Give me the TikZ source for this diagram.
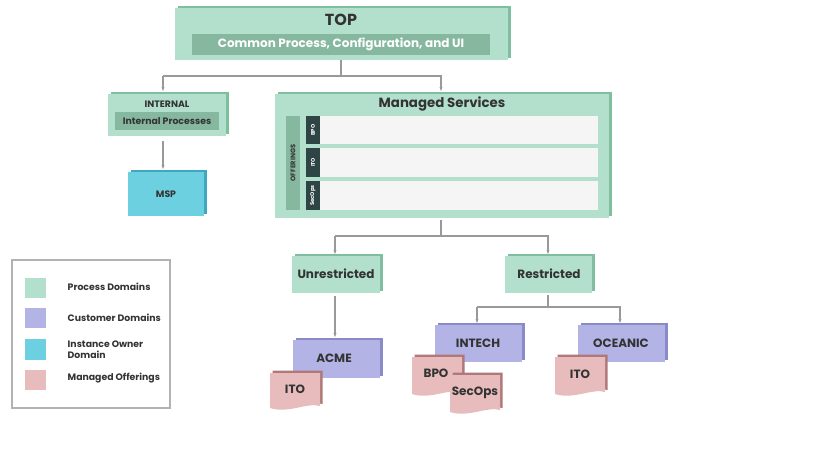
\documentclass[tikz,border=0pt]{standalone}
\usepackage{fontspec}
\setmainfont{Poppins}
\usetikzlibrary{arrows.meta}
\begin{document}
\begin{tikzpicture}[x=0.75pt,y=-0.75pt,
  txt/.style={text=black!80},
  arr/.style={draw=gray!80,line width=0.8pt,-{Stealth[length=3pt]}},
  ln/.style={draw=gray!80,line width=0.8pt}]
\definecolor{gr}{HTML}{B2E0CC}\definecolor{grd}{HTML}{7FBFA0}\definecolor{grm}{HTML}{86B8A0}
\definecolor{pu}{HTML}{B3B3E6}\definecolor{pud}{HTML}{8A8AC8}
\definecolor{cy}{HTML}{6DD0E0}\definecolor{cyd}{HTML}{3FA8C0}
\definecolor{pk}{HTML}{E8BCBC}\definecolor{pkd}{HTML}{B07878}
\definecolor{dk}{HTML}{2F4545}
\useasboundingbox (0,0) rectangle (820,461);
\newcommand\bx[6]{% x1 y1 x2 y2 fill edge
  \fill[#6] (#1+2.5,#2-2.5) rectangle (#3+2.5,#4-2.5);
  \fill[#5] (#1,#2) rectangle (#3,#4);}
\newcommand\doc[4]{% x1 y1 x2 y2
  \fill[pkd] (#1+2.5,#2-2.5) -- (#3+2.5,#2-2.5) -- (#3+2.5,#4-4) .. controls (#3-10,#4-8) and (#1+20,#4+4) .. (#1+2.5,#4-2) -- cycle;
  \fill[pk] (#1,#2) -- (#3,#2) -- (#3,#4-2) .. controls (#3-12,#4-6) and (#1+18,#4+6) .. (#1,#4) -- cycle;}
% TOP
\bx{175}{8}{508}{60}{gr}{grd}
\node[txt,font=\bfseries\large] (top) at (341,20) {TOP};
\fill[grm] (192,34) rectangle (490,55);
\node[text=white,font=\bfseries\small] (cp) at (341,44.5) {Common Process, Configuration, and UI};
% INTERNAL
\bx{108}{94}{226}{136}{gr}{grd}
\node[txt,font=\bfseries\scriptsize] (int) at (167,104) {INTERNAL};
\fill[grm] (115,112) rectangle (219,130);
\node[txt,font=\bfseries\scriptsize] (ip) at (167,121) {Internal Processes};
% MSP
\bx{128}{172}{204}{216}{cy}{cyd}
\node[txt,font=\bfseries\scriptsize] (msp) at (166,194) {MSP};
% Managed
\bx{275}{94}{609}{218}{gr}{grd}
\node[txt,font=\bfseries] (ms) at (442,104) {Managed Services};
\fill[grm] (286,116) rectangle (300,210);
\node[txt,font=\bfseries\tiny,rotate=90] (off) at (293,163) {OFFERINGS};
\foreach \a/\b/\t in {116/144/BPO,148/177/ITO,181/210/SecOps}{
  \fill[black!4] (320,\a) rectangle (598,\b);
  \fill[dk] (306,\a) rectangle (320,\b);
  \node[text=white,font=\bfseries\fontsize{4}{4}\selectfont,rotate=90] at (313,{(\a+\b)/2}) {\t};}
% Unrestricted/Restricted
\bx{292}{256}{380}{293}{gr}{grd}
\node[txt,font=\bfseries\small] (un) at (336,274) {Unrestricted};
\bx{505}{256}{592}{293}{gr}{grd}
\node[txt,font=\bfseries\small] (re) at (549,274) {Restricted};
% customers
\bx{293}{340}{380}{378}{pu}{pud}
\node[txt,font=\bfseries\small] (acme) at (334,358) {ACME};
\bx{435}{325}{522}{362}{pu}{pud}
\node[txt,font=\bfseries\small] (intech) at (478,343) {INTECH};
\bx{578}{325}{665}{362}{pu}{pud}
\node[txt,font=\bfseries\small] (oce) at (621,343) {OCEANIC};
% docs
\doc{270}{373}{320}{408}
\node[txt,font=\bfseries\small] (ito1) at (295,389) {ITO};
\doc{412}{357}{462}{394}
\node[txt,font=\bfseries\small] (bpo) at (436,373) {BPO};
\doc{450}{375}{500}{412}
\node[txt,font=\bfseries\small] (sec) at (475,393) {SecOps};
\doc{555}{357}{605}{394}
\node[txt,font=\bfseries\small] (ito2) at (580,374) {ITO};
% connectors
\coordinate (j1) at (341,76); \coordinate (j2) at (441,236); \coordinate (j3) at (548,307);
\draw[ln] (341,60) -- (j1) -- (163,76);
\draw[arr] (163,76) -- (163,91);
\draw[arr] (j1) -- (441,76) -- (441,91);
\draw[arr] (163,141) -- (163,169);
\draw[ln] (441,220) -- (j2) -- (335,236);
\draw[arr] (335,236) -- (335,254);
\draw[arr] (j2) -- (548,236) -- (548,254);
\draw[arr] (335,296) -- (335,337);
\draw[ln] (548,295) -- (j3) -- (477,307);
\draw[arr] (477,307) -- (477,323);
\draw[arr] (j3) -- (620,307) -- (620,323);
% legend
\draw[gray!60,line width=0.8pt] (12,260) rectangle (170,408);
\fill[gr] (25,278) rectangle (46,298);
\fill[pu] (25,308) rectangle (46,328);
\fill[cy] (25,339) rectangle (46,360);
\fill[pk] (25,370) rectangle (46,390);
\node[txt,font=\bfseries\scriptsize,anchor=west] (l1) at (63,287) {Process Domains};
\node[txt,font=\bfseries\scriptsize,anchor=west] (l2) at (63,318) {Customer Domains};
\node[txt,font=\bfseries\scriptsize,anchor=west,align=left] (l3) at (63,350) {Instance Owner\\Domain};
\node[txt,font=\bfseries\scriptsize,anchor=west] (l4) at (63,378) {Managed Offerings};
\end{tikzpicture}
\end{document}
